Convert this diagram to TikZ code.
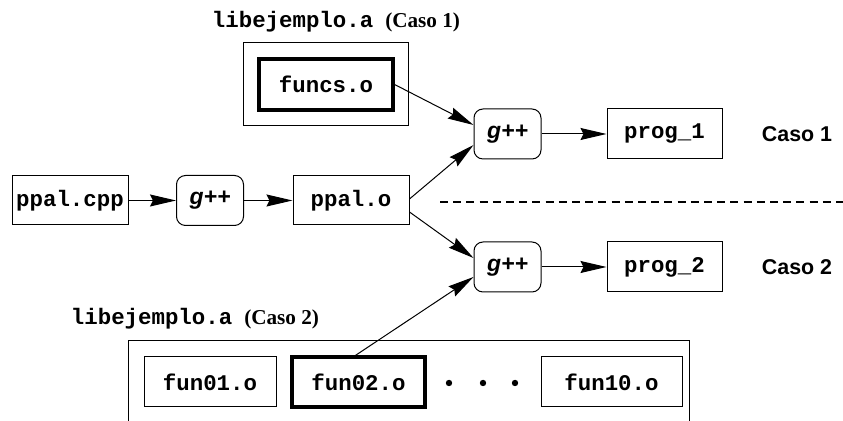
\documentclass[tikz,border=0pt]{standalone}
\usepackage{fontspec}
\setmainfont{Liberation Serif}
\setsansfont{Liberation Sans}
\setmonofont{Liberation Mono}
\usetikzlibrary{arrows.meta}
\tikzset{
  code/.style={font=\fontsize{11.2}{13}\selectfont\ttfamily\bfseries},
  filebox/.style={draw, line width=0.5pt, inner sep=0pt, code},
  thickbox/.style={draw, line width=1.6pt, inner sep=0pt, code},
  gppbox/.style={draw, line width=0.5pt, rounded corners=4.5pt, inner sep=0pt,
     minimum width=33.5pt, minimum height=25pt,
     font=\fontsize{11.5}{13}\selectfont\sffamily\bfseries\itshape},
  casolabel/.style={font=\fontsize{10.7}{13}\selectfont\sffamily\bfseries},
  libtitle/.style={anchor=base, inner sep=0pt},
  arr/.style={-{Stealth[length=13pt,width=6pt,inset=1.5pt]}, line width=0.5pt},
  dotmark/.style={circle, fill, inner sep=0pt, minimum size=3.2pt}
}
\begin{document}
\begin{tikzpicture}[x=0.5pt, y=-0.5pt]
\useasboundingbox (0,0) rectangle (843,421);
\clip (0,0) rectangle (843,421);

% Caso 1 library
\node[libtitle] (t1) at (336,28) {{\fontsize{11.2}{13}\selectfont\ttfamily\bfseries libejemplo.a}\hspace{6pt}{\fontsize{10.6}{13}\selectfont\bfseries (Caso 1)}};
\node[draw, line width=0.5pt, minimum width=82.5pt, minimum height=41.5pt, inner sep=0pt] (lib1) at (325.5,84.5) {};
\node[thickbox, minimum width=67pt, minimum height=25.5pt] (funcs) at (326,84.5) {funcs.o};

% main line
\node[filebox, minimum width=58pt, minimum height=24.5pt] (cpp) at (70,200.5) {ppal.cpp};
\node[gppbox] (g0) at (210,200.5) {g++};
\node[filebox, minimum width=58pt, minimum height=24.5pt] (ppalo) at (351,200.5) {ppal.o};

% Caso 1
\node[gppbox] (g1) at (507.5,134) {g++};
\node[filebox, minimum width=57.5pt, minimum height=25pt] (prog1) at (664.5,134) {prog\_1};
\node[casolabel] (c1) at (797,134) {Caso 1};

% Caso 2
\node[gppbox] (g2) at (507.5,267) {g++};
\node[filebox, minimum width=57.5pt, minimum height=25pt] (prog2) at (664.5,267) {prog\_2};
\node[casolabel] (c2) at (797,267) {Caso 2};

% dashed separator
\coordinate (dA) at (440,202);
\coordinate (dB) at (843,202);
\draw[line width=0.8pt, dash pattern=on 4pt off 2.6pt] (dA) -- (dB);

% Caso 2 library
\node[libtitle] (t2) at (195,325) {{\fontsize{11.2}{13}\selectfont\ttfamily\bfseries libejemplo.a}\hspace{6pt}{\fontsize{10.6}{13}\selectfont\bfseries (Caso 2)}};
\draw[line width=0.5pt] (128,460) -- (128,341) -- (689,341) -- (689,460);
\node[filebox, minimum width=66pt, minimum height=25pt] (f01) at (210,382) {fun01.o};
\node[thickbox, minimum width=66.5pt, minimum height=25pt] (f02) at (358.5,382) {fun02.o};
\node[dotmark] (d1) at (449,383) {};
\node[dotmark] (d2) at (483,383) {};
\node[dotmark] (d3) at (515,383) {};
\node[filebox, minimum width=70.5pt, minimum height=25pt] (f10) at (611.5,382) {fun10.o};

% connectors
\draw[arr] (cpp.east) -- (g0.west);
\draw[arr] (g0.east) -- (ppalo.west);
\draw[arr] (g1.east) -- (prog1.west);
\draw[arr] (g2.east) -- (prog2.west);
\draw[arr] (funcs.east) -- ([yshift=4.5pt]g1.west);
\draw[arr] ([yshift=0.75pt]ppalo.east) -- ([yshift=-5.5pt]g1.west);
\draw[arr] ([yshift=-5.75pt]ppalo.east) -- ([yshift=4.5pt]g2.west);
\draw[arr] ([xshift=-1.5pt]f02.north) -- ([yshift=-5pt]g2.west);
\end{tikzpicture}
\end{document}
